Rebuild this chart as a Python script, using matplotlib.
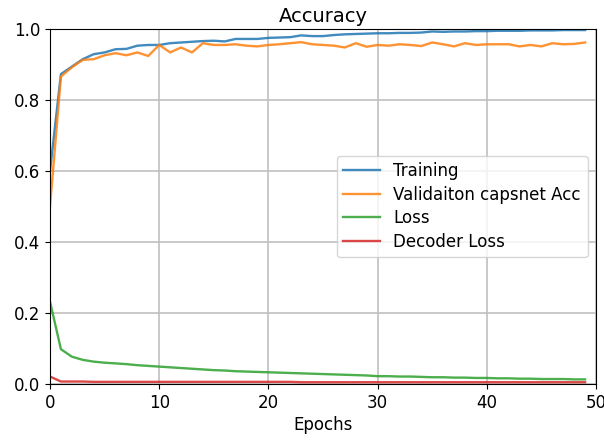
import matplotlib
matplotlib.use("Agg")
import matplotlib.pyplot as plt

# ---------------- Data ----------------
epochs = list(range(50))

train_acc = [0.600, 0.873, 0.894, 0.915, 0.929, 0.934, 0.943, 0.944, 0.953, 0.955,
             0.955, 0.960, 0.962, 0.964, 0.966, 0.967, 0.965, 0.972, 0.972, 0.972,
             0.975, 0.976, 0.977, 0.982, 0.980, 0.980, 0.983, 0.985, 0.986, 0.987,
             0.988, 0.988, 0.989, 0.989, 0.990, 0.993, 0.992, 0.993, 0.993, 0.994,
             0.994, 0.995, 0.995, 0.995, 0.996, 0.996, 0.996, 0.997, 0.997, 0.997]

val_acc = [0.500, 0.866, 0.892, 0.913, 0.915, 0.926, 0.932, 0.926, 0.934, 0.924,
           0.955, 0.934, 0.948, 0.934, 0.960, 0.955, 0.955, 0.957, 0.953, 0.951,
           0.955, 0.957, 0.960, 0.963, 0.957, 0.955, 0.953, 0.948, 0.960, 0.950,
           0.955, 0.953, 0.957, 0.955, 0.952, 0.962, 0.957, 0.951, 0.960, 0.955,
           0.957, 0.957, 0.957, 0.951, 0.955, 0.951, 0.960, 0.957, 0.958, 0.962]

loss = [0.232, 0.098, 0.077, 0.068, 0.063, 0.060, 0.058, 0.056, 0.053, 0.051,
        0.049, 0.047, 0.045, 0.043, 0.041, 0.039, 0.038, 0.036, 0.035, 0.034,
        0.033, 0.032, 0.031, 0.030, 0.029, 0.028, 0.027, 0.026, 0.025, 0.024,
        0.022, 0.022, 0.021, 0.021, 0.020, 0.019, 0.019, 0.018, 0.018, 0.017,
        0.017, 0.016, 0.016, 0.015, 0.015, 0.014, 0.014, 0.014, 0.013, 0.013]

decoder_loss = [0.021, 0.007, 0.007, 0.007, 0.006, 0.006, 0.006, 0.006, 0.006, 0.006,
                0.006, 0.006, 0.006, 0.006, 0.006, 0.006, 0.006, 0.006, 0.006, 0.006,
                0.006, 0.006, 0.006, 0.005, 0.005, 0.005, 0.005, 0.005, 0.005, 0.005,
                0.005, 0.005, 0.005, 0.005, 0.005, 0.005, 0.005, 0.005, 0.005, 0.005,
                0.005, 0.005, 0.005, 0.005, 0.005, 0.005, 0.005, 0.005, 0.005, 0.005]

labels = ["Training", "Validaiton capsnet Acc", "Loss", "Decoder Loss"]

# ---------------- Plot ----------------
plt.rcParams['font.size'] = 12

fig = plt.figure(figsize=(6.04, 4.41), dpi=100)
ax = fig.add_axes([50 / 604, 1 - 384 / 441, 546 / 604, 355 / 441])

ax.plot(epochs, train_acc, label=labels[0], color="#1f77b4", linewidth=1.7, alpha=0.85)
ax.plot(epochs, val_acc, label=labels[1], color="#ff7f0e", linewidth=1.7, alpha=0.85)
ax.plot(epochs, loss, label=labels[2], color="#2ca02c", linewidth=1.7, alpha=0.85)
ax.plot(epochs, decoder_loss, label=labels[3], color="#d62728", linewidth=1.7, alpha=0.85)

ax.set_xlim(0, 50)
ax.set_ylim(0, 1)
ax.set_title("Accuracy", fontsize=14, pad=5)
ax.set_xlabel("Epochs", labelpad=3)
ax.tick_params(labelsize=12)
ax.grid(True, color="#c0c0c0", linewidth=1.2)
for s in ax.spines.values():
    s.set_color("black")
ax.legend(loc="center right", fontsize=12, labelspacing=0.33, handlelength=2.2)

fig.savefig("out.png", dpi=100)
